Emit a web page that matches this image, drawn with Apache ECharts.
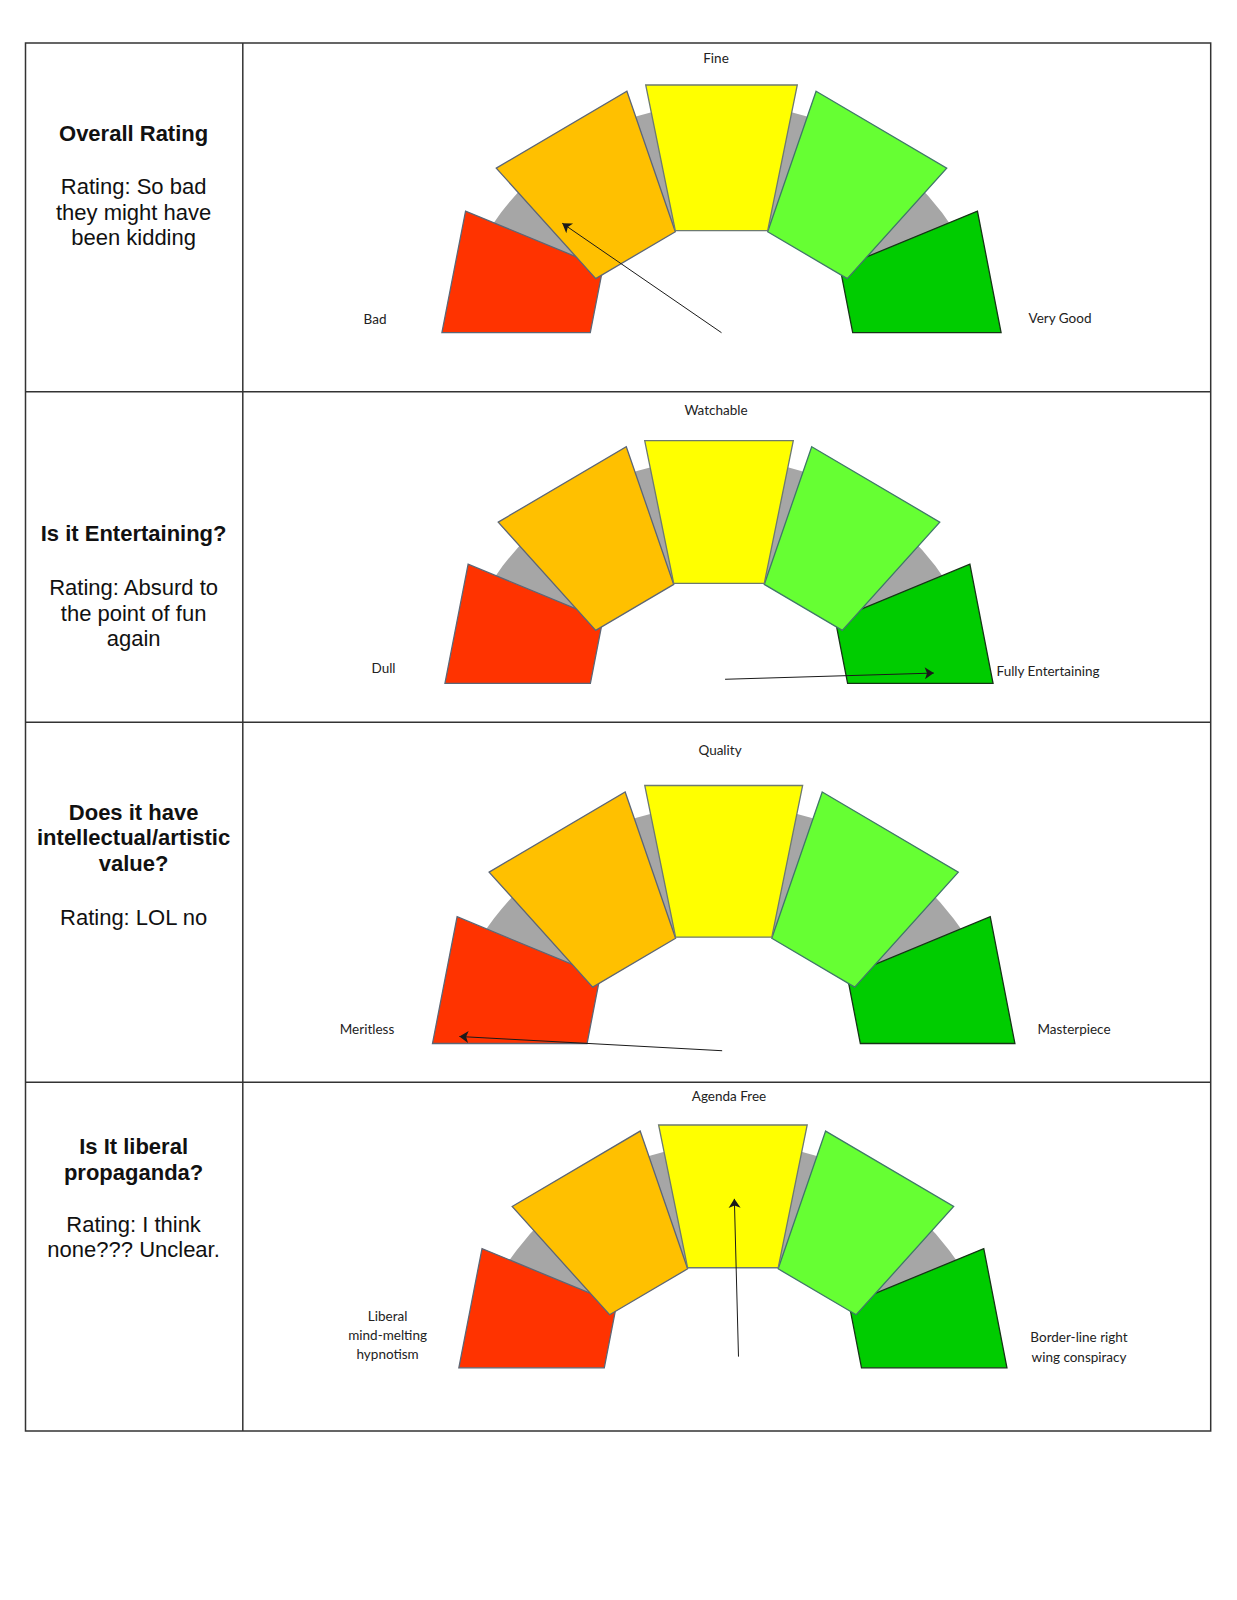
<!DOCTYPE html>
<html><head><meta charset="utf-8">
<style>html,body{margin:0;padding:0;background:#fff}#c{width:1237px;height:1600px}</style>
<script src="https://cdn.jsdelivr.net/npm/echarts@6/dist/echarts.min.js"></script>
</head><body><div id="c"></div>
<script>
// ---------- data ----------
const levels = ['Level 1', 'Level 2', 'Level 3', 'Level 4', 'Level 5'];
const rowTitles = ['Overall Rating', 'Is it Entertaining?', 'Does it have\nintellectual/artistic\nvalue?', 'Is It liberal\npropaganda?'];
const rowRatings = ['Rating: So bad\nthey might have\nbeen kidding', 'Rating: Absurd to\nthe point of fun\nagain', 'Rating: LOL no', 'Rating: I think\nnone??? Unclear.'];
const lowLabels = ['Bad', 'Dull', 'Meritless', 'Liberal\nmind-melting\nhypnotism'];
const midLabels = ['Fine', 'Watchable', 'Quality', 'Agenda Free'];
const highLabels = ['Very Good', 'Fully Entertaining', 'Masterpiece', 'Border-line right\nwing conspiracy'];
const pointerAngle = [145.5, 1.7, 176.9, 91.5];      // degrees, 0 = pointing right
const pointerLength = [0.78, 0.86, 1.02, 0.65];      // in gauge radii
const pointerTail = [[0, 0], [0.025, 0.017], [-0.006, -0.028], [0.023, 0.046]];

// ---------- layout / style ----------
const layout = [
  {cx: 721.5, cy: 332.7, u: 247.7, titleY: 133.6, ratingY: 186.7,
   mid: [716, 58], low: [375, 319], high: [1060, 318], highAlign: 'center'},
  {cx: 719, cy: 683.4, u: 242.8, titleY: 533.5, ratingY: 587.5,
   mid: [716, 410], low: [383.5, 668], high: [996.5, 671], highAlign: 'left'},
  {cx: 723.7, cy: 1043.5, u: 258, titleY: 812, ratingY: 917,
   mid: [720, 750], low: [367, 1029], high: [1074, 1029], highAlign: 'center'},
  {cx: 732.9, cy: 1367.8, u: 242.8, titleY: 1146.5, ratingY: 1224,
   mid: [729, 1095.5], low: [387.6, 1335], high: [1079, 1347], highAlign: 'center'}
];
const X0 = -1.4, X1 = 1.4, Y0 = -0.2, Y1 = 1.15;
const BASE = [[-0.306, 1.0], [0.306, 1.0], [0.1865, 0.412], [-0.1865, 0.412]];
const BLOCK_ROT = [79, 30.5, 0, -30.5, -79];
const BLOCK_OFF = [[-0.11, 0], [-0.138, -0.042], [0, 0], [0.138, -0.042], [0.11, 0]];
const BLOCK_Z = [1, 2, 3, 2, 1];
const COLORS = ['#ff3300', '#ffc000', '#ffff00', '#66ff33', '#00cc00'];
const BORDERS = ['#5d6675', '#5d6675', '#6d7a70', '#3f7868', '#163416'];
const GRAY_CY = -0.19, GRAY_R = 1.117, GRAY_R0 = 0.64, GRAY_A = 19.5;

function clipY0(pts) {
  const out = [];
  for (let k = 0; k < pts.length; k++) {
    const a = pts[k], b = pts[(k + 1) % pts.length];
    const ina = a[1] >= 0, inb = b[1] >= 0;
    if (ina) out.push(a);
    if (ina !== inb) { const t = a[1] / (a[1] - b[1]); out.push([a[0] + t * (b[0] - a[0]), 0]); }
  }
  return out;
}
function blockItem(params, api) {
  const i = params.dataIndex;
  const th = BLOCK_ROT[i] * Math.PI / 180, c = Math.cos(th), s = Math.sin(th);
  let pts = BASE.map(([x, y]) => [x * c - y * s + BLOCK_OFF[i][0], x * s + y * c + BLOCK_OFF[i][1]]);
  pts = clipY0(pts);
  return {type: 'polygon', z2: BLOCK_Z[i], shape: {points: pts.map(p => api.coord(p))},
          style: {fill: COLORS[i], stroke: BORDERS[i], lineWidth: 1.3}};
}
function arcItem(params, api) {
  const c = api.coord([0, GRAY_CY]);
  const px = api.size([1, 1])[0];
  return {type: 'sector', z2: 0,
    shape: {cx: c[0], cy: c[1], r0: GRAY_R0 * px, r: GRAY_R * px,
            startAngle: -(180 - GRAY_A) * Math.PI / 180, endAngle: -GRAY_A * Math.PI / 180, clockwise: true},
    style: {fill: '#a6a6a6'}};
}

const grid = [], xAxis = [], yAxis = [], series = [], graphic = [];
layout.forEach((L, i) => {
  grid.push({left: L.cx + X0 * L.u, top: L.cy - Y1 * L.u, width: (X1 - X0) * L.u, height: (Y1 - Y0) * L.u});
  xAxis.push({type: 'value', gridIndex: i, min: X0, max: X1, show: false});
  yAxis.push({type: 'value', gridIndex: i, min: Y0, max: Y1, show: false});
  series.push({type: 'custom', xAxisIndex: i, yAxisIndex: i, renderItem: arcItem, data: [[0, 0]], z: 1, silent: true});
  series.push({type: 'custom', name: 'bands', xAxisIndex: i, yAxisIndex: i, renderItem: blockItem,
               data: levels.map((l, k) => ({name: l, value: [k, 0]})), z: 2, silent: true});
  const a = pointerAngle[i] * Math.PI / 180, t = pointerTail[i];
  const head = [t[0] + pointerLength[i] * Math.cos(a), t[1] + pointerLength[i] * Math.sin(a)];
  series.push({type: 'lines', coordinateSystem: 'cartesian2d', xAxisIndex: i, yAxisIndex: i, z: 5, silent: true,
               symbol: ['none', 'arrow'], symbolSize: [0, 9],
               lineStyle: {color: '#1a1a1a', width: 1, opacity: 1, curveness: 0},
               data: [{coords: [t, head]}]});
  const lblFont = {fontFamily: 'Lato', fontSize: 13.5, fill: '#222'};
  graphic.push({type: 'text', x: L.mid[0], y: L.mid[1], style: Object.assign({text: midLabels[i], align: 'center', textAlign: 'center', verticalAlign: 'middle', textVerticalAlign: 'middle'}, lblFont)});
  graphic.push({type: 'text', x: L.low[0], y: L.low[1], style: Object.assign({text: lowLabels[i], lineHeight: 19, align: 'center', textAlign: 'center', verticalAlign: 'middle', textVerticalAlign: 'middle'}, lblFont)});
  graphic.push({type: 'text', x: L.high[0], y: L.high[1], style: Object.assign({text: highLabels[i], lineHeight: 19.5, align: L.highAlign, textAlign: L.highAlign, verticalAlign: 'middle', textVerticalAlign: 'middle'}, lblFont)});
  graphic.push({type: 'text', x: 133.6, y: L.titleY - 12.75, style: {text: rowTitles[i], fontFamily: 'Liberation Sans', fontSize: 22, fontWeight: 'bold', lineHeight: 25.5, fill: '#111', align: 'center', textAlign: 'center', verticalAlign: 'top', textVerticalAlign: 'top'}});
  graphic.push({type: 'text', x: 133.6, y: L.ratingY - 12.75, style: {text: rowRatings[i], fontFamily: 'Liberation Sans', fontSize: 22, lineHeight: 25.5, fill: '#111', align: 'center', textAlign: 'center', verticalAlign: 'top', textVerticalAlign: 'top'}});
});
// table
const tbl = {stroke: '#333', lineWidth: 1.5};
graphic.push({type: 'rect', shape: {x: 25.5, y: 43, width: 1185.2, height: 1388}, style: Object.assign({fill: 'none'}, tbl), z: 10});
graphic.push({type: 'line', shape: {x1: 242.8, y1: 43, x2: 242.8, y2: 1431}, style: tbl, z: 10});
[391.7, 722.2, 1082.2].forEach(y => graphic.push({type: 'line', shape: {x1: 25.5, y1: y, x2: 1210.7, y2: y}, style: tbl, z: 10}));

const chart = echarts.init(document.getElementById('c'), null, {renderer: 'svg', width: 1237, height: 1600});
chart.setOption({animation: false, backgroundColor: '#fff', grid, xAxis, yAxis, series, graphic});
</script></body></html>
